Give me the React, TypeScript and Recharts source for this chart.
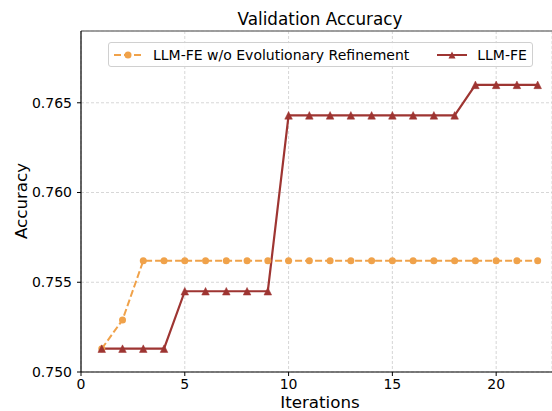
import React from 'react';
import { LineChart, Line, XAxis, YAxis, CartesianGrid, ReferenceLine } from 'recharts';

const iterations = [1, 2, 3, 4, 5, 6, 7, 8, 9, 10, 11, 12, 13, 14, 15, 16, 17, 18, 19, 20, 21, 22];
const baselineAcc = [0.7513, 0.7529, 0.7562, 0.7562, 0.7562, 0.7562, 0.7562, 0.7562, 0.7562, 0.7562, 0.7562,
  0.7562, 0.7562, 0.7562, 0.7562, 0.7562, 0.7562, 0.7562, 0.7562, 0.7562, 0.7562, 0.7562];
const llmFeAcc = [0.7513, 0.7513, 0.7513, 0.7513, 0.7545, 0.7545, 0.7545, 0.7545, 0.7545, 0.7643, 0.7643,
  0.7643, 0.7643, 0.7643, 0.7643, 0.7643, 0.7643, 0.7643, 0.766, 0.766, 0.766, 0.766];
const xTicks = [0, 5, 10, 15, 20];
const yTicks = [0.75, 0.755, 0.76, 0.765];
const seriesNames = ['LLM-FE w/o Evolutionary Refinement', 'LLM-FE'];

const data = iterations.map((it, i) => ({ it, base: baselineAcc[i], llm: llmFeAcc[i] }));

const ORANGE = '#F0A24A';
const RED = '#9E3532';
const FONT = '"DejaVu Sans", sans-serif';

const Tri = (props: any) => {
  const { cx, cy } = props;
  if (cx == null || cy == null) return null;
  const h = 3.8;
  return <polygon points={`${cx},${cy - h} ${cx - h},${cy + h} ${cx + h},${cy + h}`} fill={RED} stroke={RED} strokeWidth={0.5} />;
};

const LegendBox = () => (
  <div style={{
    position: 'absolute', left: 108, top: 42,
    width: 425, height: 25, boxSizing: 'border-box', border: '1px solid #d0d0d0', borderRadius: 3,
    background: 'rgba(255,255,255,0.85)', display: 'flex', alignItems: 'center', fontFamily: FONT, fontSize: 14, color: '#000'
  }}>
    <svg width={44} height={22} style={{ flex: 'none' }}>
      <line x1={5} y1={11} x2={33} y2={11} stroke={ORANGE} strokeWidth={2} strokeDasharray="7 3" />
      <circle cx={19} cy={11} r={3.5} fill={ORANGE} />
    </svg>
    <span style={{ whiteSpace: 'nowrap' }}>{seriesNames[0]}</span>
    <svg width={68} height={22} style={{ flex: 'none', marginLeft: 0 }}>
      <line x1={28} y1={11} x2={58} y2={11} stroke={RED} strokeWidth={2} />
      <polygon points="43,7.5 39.5,14.5 46.5,14.5" fill={RED} />
    </svg>
    <span style={{ whiteSpace: 'nowrap' }}>{seriesNames[1]}</span>
  </div>
);

export default function App() {
  return (
    <div style={{ position: 'absolute', left: 0, top: 0, width: 552, height: 411, background: '#fff', fontFamily: FONT }}>
      <LineChart width={552} height={411} data={data} margin={{ top: 31, right: 0, bottom: 0, left: 0 }}>
        <CartesianGrid stroke="#cccccc" strokeDasharray="3 2" strokeWidth={0.8} />
        <XAxis dataKey="it" type="number" domain={[0, 22.69]} ticks={xTicks} allowDataOverflow height={39}
          tick={{ fontSize: 14, fill: '#000', fontFamily: FONT }} tickSize={4} tickMargin={3}
          axisLine={{ stroke: '#000', strokeWidth: 1.2 }} tickLine={{ stroke: '#000' }} />
        <YAxis type="number" domain={[0.75, 0.769]} ticks={yTicks} allowDataOverflow width={81}
          tickFormatter={(v: number) => v.toFixed(3)}
          tick={{ fontSize: 14, fill: '#000', fontFamily: FONT }} tickSize={4} tickMargin={5}
          axisLine={{ stroke: '#000', strokeWidth: 1.2 }} tickLine={{ stroke: '#000' }} />
        <ReferenceLine y={0.769} stroke="#808080" strokeWidth={1.5} ifOverflow="extendDomain" />
        <Line dataKey="base" name={seriesNames[0]} stroke={ORANGE} strokeWidth={2} strokeDasharray="7 3"
          dot={{ r: 3.5, fill: ORANGE, stroke: ORANGE, strokeWidth: 0, strokeDasharray: '' }} isAnimationActive={false} />
        <Line dataKey="llm" name={seriesNames[1]} stroke={RED} strokeWidth={2.2}
          dot={<Tri />} isAnimationActive={false} />
      </LineChart>
      <LegendBox />
      <div style={{ position: 'absolute', left: 0, width: 640, top: 8, textAlign: 'center', fontSize: 16.8, lineHeight: '22px' }}>Validation Accuracy</div>
      <div style={{ position: 'absolute', left: 0, width: 640, top: 394, height: 16, textAlign: 'center', fontSize: 16.7, lineHeight: '16px' }}>Iterations</div>
      <div style={{ position: 'absolute', left: 21, top: 201, width: 0, height: 0 }}>
        <div style={{ position: 'absolute', transform: 'translate(-50%, -50%) rotate(-90deg)', fontSize: 16.7, lineHeight: '20px', whiteSpace: 'nowrap' }}>Accuracy</div>
      </div>
    </div>
  );
}
